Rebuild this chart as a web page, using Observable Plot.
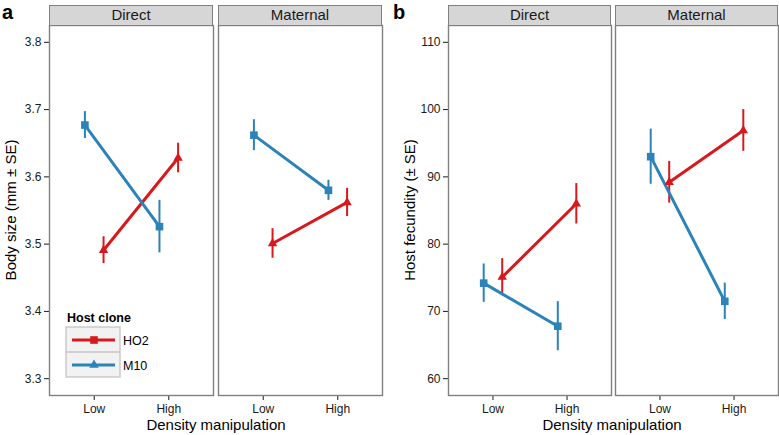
<!DOCTYPE html>
<html><head><meta charset="utf-8">
<script src="https://cdn.jsdelivr.net/npm/d3@7"></script>
<script src="https://cdn.jsdelivr.net/npm/@observablehq/plot@0.6"></script>
<style>
body{margin:0;background:#fff;font-family:"Liberation Sans",Arial,sans-serif;}
#root{position:relative;width:779px;height:435px;overflow:hidden;background:#fff}
.strip{position:absolute;box-sizing:border-box;background:#d6d6d6;border:1.3px solid #808080;font-size:15px;color:#1a1a1a;text-align:center;line-height:18px;top:5px;height:21px}
</style></head>
<body><div id="root"></div>
<script>
// ---- data ----
const facets = ["Direct", "Maternal"];
const densities = ["Low", "High"];
const clones = ["HO2", "M10"];
const cloneColors = ["#d7191c", "#2b83ba"];
// order of values: Direct-Low, Direct-High, Maternal-Low, Maternal-High
const bodyMeanHO2 = [3.491, 3.628, 3.501, 3.562];
const bodySeHO2   = [0.020, 0.022, 0.022, 0.021];
const bodyMeanM10 = [3.677, 3.526, 3.662, 3.580];
const bodySeM10   = [0.020, 0.039, 0.023, 0.015];
const fecMeanHO2  = [75.1, 86.0, 89.2, 96.9];
const fecSeHO2    = [2.75, 3.0, 3.1, 3.1];
const fecMeanM10  = [74.2, 67.8, 93.0, 71.5];
const fecSeM10    = [2.85, 3.65, 4.1, 2.7];
const bodyTicks = [3.3, 3.4, 3.5, 3.6, 3.7, 3.8];
const fecTicks  = [60, 70, 80, 90, 100, 110];
const bodyLimits = [3.3, 3.8];
const fecLimits  = [60, 110];
const dodgeWidth = 0.25;

function buildRows(meanH, seH, meanM, seM) {
  const rows = [];
  facets.forEach((f, fi) => densities.forEach((d, di) => {
    const k = fi * 2 + di;
    rows.push({facet: f, density: d, xi: di + 1, clone: "HO2", mean: meanH[k], se: seH[k]});
    rows.push({facet: f, density: d, xi: di + 1, clone: "M10", mean: meanM[k], se: seM[k]});
  }));
  return rows;
}
const dodge = {HO2: dodgeWidth / 2, M10: -dodgeWidth / 2};
const xOf = d => d.xi + dodge[d.clone];
const expand = ([a, b], m = 0.05) => [a - (b - a) * m, b + (b - a) * m];

const root = document.getElementById("root");

function panel({left, width, marginLeft, marginRight, limits, ticks, fmt, meanH, seH, meanM, seM, pad}) {
  const rows = buildRows(meanH, seH, meanM, seM);
  const plot = Plot.plot({
    width, height: 435,
    marginLeft, marginRight, marginTop: 25, marginBottom: 40,
    style: {fontSize: "12px", fontFamily: "Liberation Sans, Arial, sans-serif", color: "#1a1a1a", background: "transparent", overflow: "visible"},
    facet: {data: rows, x: "facet"},
    fx: {domain: facets, paddingInner: pad, paddingOuter: 0, axis: null, label: null},
    x: {domain: [0.4, 2.6], ticks: [1, 2], tickFormat: i => densities[i - 1], tickSize: 5, tickPadding: 4, label: null},
    y: {domain: expand(limits), ticks, tickFormat: fmt, tickSize: 5, tickPadding: 3, label: null},
    color: {domain: clones, range: cloneColors},
    marks: [
      Plot.frame({stroke: "#808080", strokeWidth: 1.4}),
      Plot.ruleX(rows, {x: xOf, y1: d => d.mean - d.se, y2: d => d.mean + d.se, stroke: "clone", strokeWidth: 2}),
      Plot.line(rows, {x: xOf, y: "mean", z: "clone", stroke: "clone", strokeWidth: 3}),
      Plot.dot(rows, {filter: d => d.clone === "M10", x: xOf, y: "mean", fill: "clone", symbol: "square", r: 4.3}),
      Plot.dot(rows, {filter: d => d.clone === "HO2", x: xOf, y: "mean", fill: "clone", symbol: "triangle", r: 3.5})
    ]
  });
  plot.style.position = "absolute";
  plot.style.left = left + "px";
  plot.style.top = "0px";
  root.appendChild(plot);
  const fx = plot.scale("fx");
  const band = d3.scaleBand(fx.domain, fx.range).paddingInner(fx.paddingInner ?? pad).paddingOuter(fx.paddingOuter ?? 0);
  facets.forEach(f => {
    const s = document.createElement("div");
    s.className = "strip";
    const x0 = fx.apply ? fx.apply(f) : band(f);
    const bw = fx.bandwidth ?? band.bandwidth();
    s.style.left = (left + x0) + "px";
    s.style.width = bw + "px";
    s.textContent = f;
    root.appendChild(s);
  });
}

panel({left: 0, width: 390, marginLeft: 49, marginRight: 7, limits: bodyLimits, ticks: bodyTicks, fmt: d3.format(".1f"),
  meanH: bodyMeanHO2, seH: bodySeHO2, meanM: bodyMeanM10, seM: bodySeM10, pad: 0.0295});
panel({left: 390, width: 389, marginLeft: 57, marginRight: 1, limits: fecLimits, ticks: fecTicks, fmt: d3.format("d"),
  meanH: fecMeanHO2, seH: fecSeHO2, meanM: fecMeanM10, seM: fecSeM10, pad: 0.024});

// overlay: panel letters, axis titles, legend
const ns = "http://www.w3.org/2000/svg";
const ov = document.createElementNS(ns, "svg");
ov.setAttribute("width", 779); ov.setAttribute("height", 435);
ov.style.position = "absolute"; ov.style.left = "0"; ov.style.top = "0";
ov.style.fontFamily = "Liberation Sans, Arial, sans-serif";
function el(tag, attrs, text) {
  const e = document.createElementNS(ns, tag);
  for (const k in attrs) e.setAttribute(k, attrs[k]);
  if (text != null) e.textContent = text;
  ov.appendChild(e);
  return e;
}
el("text", {x: 2, y: 19, "font-size": 20, "font-weight": "bold", fill: "#000"}, "a");
el("text", {x: 393, y: 19, "font-size": 20, "font-weight": "bold", fill: "#000"}, "b");
el("text", {x: 216, y: 430, "font-size": 15, "text-anchor": "middle", fill: "#000"}, "Density manipulation");
el("text", {x: 612, y: 430, "font-size": 15, "text-anchor": "middle", fill: "#000"}, "Density manipulation");
el("text", {transform: "translate(16,210) rotate(-90)", "font-size": 15, "text-anchor": "middle", fill: "#000"}, "Body size (mm \u00b1 SE)");
el("text", {transform: "translate(415,210) rotate(-90)", "font-size": 15, "text-anchor": "middle", fill: "#000"}, "Host fecundity (\u00b1 SE)");
// legend
el("text", {x: 67, y: 322, "font-size": 12.5, "font-weight": "bold", fill: "#000"}, "Host clone");
el("rect", {x: 66, y: 327, width: 54, height: 50, fill: "#f2f2f2", stroke: "#c4c4c4", "stroke-width": 1.3});
el("line", {x1: 66, x2: 120, y1: 352, y2: 352, stroke: "#c4c4c4", "stroke-width": 1.3});
clones.forEach((c, i) => {
  const cy = 340 + i * 25;
  el("line", {x1: 72, x2: 115, y1: cy, y2: cy, stroke: cloneColors[i], "stroke-width": 3});
  if (i === 0) el("rect", {x: 90.2, y: cy - 3.8, width: 7.6, height: 7.6, fill: cloneColors[i]});
  else el("path", {d: d3.symbol(d3.symbolTriangle, Math.PI * 3.5 * 3.5)(), transform: `translate(94,${cy})`, fill: cloneColors[i]});
  el("text", {x: 123, y: cy + 4.5, "font-size": 12.5, fill: "#000"}, c);
});
root.appendChild(ov);
</script>
</body></html>
